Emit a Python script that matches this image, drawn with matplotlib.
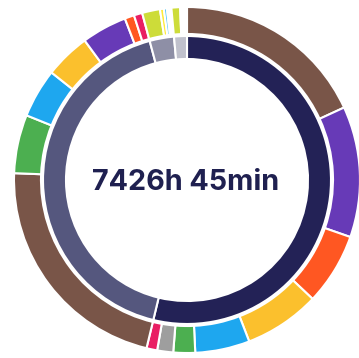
import matplotlib
matplotlib.use("Agg")
import matplotlib.pyplot as plt

# Hours per activity group (inner ring) broken into sub-activities (outer ring)
group_colors = ["#232256", "#55577E", "#8E8FA6", "#C0C1CC"]

sub_hours = [
    [1345.75, 908, 499, 526, 378, 151, 111, 74],
    [1624, 406, 340, 316, 314, 66, 58],
    [124, 27, 21, 31],
    [60, 47],
]
sub_colors = [
    ["#795548", "#673AB7", "#FF5722", "#FBC02D", "#1EA7EF", "#4CAF50", "#9E9E9E", "#E91E63"],
    ["#795548", "#4CAF50", "#1EA7EF", "#FBC02D", "#673AB7", "#FF5722", "#E91E63"],
    ["#CDDC39", "#FFEB3B", "#4FC3F7", "#FFFFFF"],
    ["#CDDC39", "#FFFFFF"],
]

group_hours = [sum(g) for g in sub_hours]
outer_vals = [v for g in sub_hours for v in g]
outer_cols = [c for g in sub_colors for c in g]

total = sum(group_hours)
hours = int(total)
minutes = int(round((total - hours) * 60))
label = f"{hours}h {minutes}min"

W, H = 359, 358
fig = plt.figure(figsize=(W / 100, H / 100), dpi=100)
ax = fig.add_axes([0, 0, 1, 1])
ax.set_xlim(0, W)
ax.set_ylim(0, H)
ax.axis("off")

cx, cy = 187, H - 180

ax.pie(outer_vals, colors=outer_cols, radius=173, center=(cx, cy),
       startangle=90, counterclock=False,
       wedgeprops=dict(width=27, edgecolor="white", linewidth=1.5))
ax.pie(group_hours, colors=group_colors, radius=144, center=(cx, cy),
       startangle=90, counterclock=False,
       wedgeprops=dict(width=23, edgecolor="white", linewidth=1.5))
ax.set_xlim(0, W)
ax.set_ylim(0, H)
ax.set_aspect("auto")

ax.text(cx - 1, cy - 3, label, ha="center", va="center",
        fontsize=20.7, fontweight="bold", color="#1F2050",
        family=["Inter", "DejaVu Sans"])

fig.savefig("out.png", dpi=100, facecolor="white")
